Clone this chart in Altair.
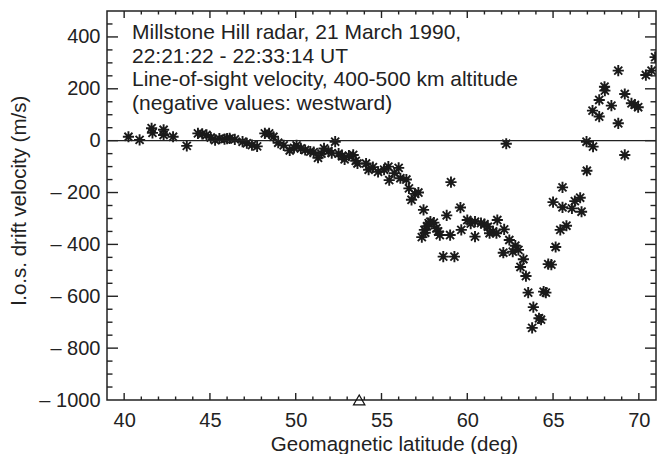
import altair as alt
import pandas as pd

# ---- data ----
lat = [40.25, 40.9, 41.6, 41.65, 42.3, 42.3, 42.85, 43.65, 44.3, 44.55, 44.8, 45.05,
       45.3, 45.55, 45.85, 46.0, 46.15, 46.45, 46.9, 47.15, 47.45, 47.75, 48.2, 48.45,
       48.7, 48.98, 49.3, 49.65, 49.9, 50.05, 50.3, 50.55, 50.85, 51.05, 51.3, 51.5,
       51.65, 51.9, 52.1, 52.3, 52.5, 52.7, 52.85, 53.1, 53.35, 53.5, 53.6, 54.1,
       54.25, 54.5, 54.8, 55.15, 55.4, 55.45, 55.75, 56.0, 56.1, 56.45, 56.6, 56.75,
       56.95, 57.15, 57.45, 57.35, 57.5, 57.55, 57.65, 57.75, 57.85, 58.05, 58.2, 58.3,
       58.4, 58.6, 58.8, 59.0, 59.05, 59.25, 59.6, 59.65, 60.0, 60.2, 60.45, 60.45,
       60.8, 61.0, 61.2, 61.3, 61.5, 61.75, 61.7, 62.1, 62.15, 62.27, 62.45, 62.65,
       62.8, 62.98, 63.1, 63.27, 63.42, 63.55, 63.78, 63.85, 64.18, 64.3, 64.45, 64.58,
       64.72, 64.9, 65.0, 65.15, 65.42, 65.55, 65.55, 65.78, 66.1, 66.27, 66.58, 66.66,
       66.95, 66.97, 67.3, 67.33, 67.69, 67.69, 68.0, 68.02, 68.4, 68.8, 68.8, 69.18,
       69.18, 69.57, 69.77, 69.96, 70.41, 70.74, 70.95]
vel = [15, 3, 48, 30, 42, 22, 15, -20, 28, 26, 22, 12,
       2, 8, 6, 8, 9, 5, -4, -10, -17, -22, 28, 28,
       15, -8, -18, -38, -28, -18, -30, -36, -42, -44, -66, -50,
       -30, -40, -48, -4, -50, -60, -72, -58, -55, -78, -88, -88,
       -112, -102, -120, -112, -100, -152, -125, -105, -145, -150, -184, -228,
       -205, -200, -267, -372, -344, -355, -330, -318, -312, -316, -338, -350,
       -364, -447, -288, -364, -160, -447, -258, -344, -306, -320, -312, -370,
       -318, -322, -332, -357, -350, -306, -357, -432, -342, -12, -383, -428,
       -405, -421, -487, -457, -522, -586, -722, -642, -685, -690, -582, -586,
       -476, -478, -237, -410, -344, -180, -257, -328, -261, -233, -220, -274,
       -4, -116, 116, -23, 93, 157, 208, 193, 135, 270, 67, 180,
       -55, 144, 138, 129, 253, 270, 322]

marker_lat = [53.7]
marker_vel = [-1000]
zero_level = [0]

info_lines = ["Millstone Hill radar, 21 March 1990,",
              "22:21:22 - 22:33:14 UT",
              "Line-of-sight velocity, 400-500 km altitude",
              "(negative values: westward)"]

x_domain = [39, 71]
y_domain = [-1000, 500]
x_major = [40, 45, 50, 55, 60, 65, 70]
x_minor = [v for v in range(40, 71) if v % 5 != 0]
y_major = [-800, -600, -400, -200, 0, 200, 400]
y_minor = [v for v in range(-950, 500, 50) if v % 200 != 0]

x_title = "Geomagnetic latitude (deg)"
y_title = "l.o.s. drift velocity (m/s)"

# ---- styling ----
FONT = "Liberation Sans"
FS = 20
INK = "#222222"
W, H = 549, 389

pts = pd.DataFrame({"lat": lat, "vel": vel})
mk = pd.DataFrame({"lat": marker_lat, "vel": marker_vel})
zero = pd.DataFrame({"vel": zero_level})
info = pd.DataFrame({"t": [info_lines]})

xs = alt.Scale(domain=x_domain, nice=False, zero=False)
ys = alt.Scale(domain=y_domain, nice=False, zero=False)

x_axis = alt.Axis(orient="bottom", values=x_major, ticks=False, domain=False, grid=False,
                  labelFont=FONT, labelFontSize=FS, labelColor=INK, labelPadding=10,
                  labelFlush=False, title=x_title, titleFont=FONT, titleFontSize=20.5,
                  titleColor=INK, titleFontWeight="normal", titleX=287, titleY=50,
                  titleBaseline="alphabetic")
y_axis = alt.Axis(orient="left", values=[-1000] + y_major, ticks=False, domain=False, grid=False,
                  labelExpr="datum.value < 0 ? '\u2013 ' + (-datum.value) : '' + datum.value",
                  labelFont=FONT, labelFontSize=FS, labelColor=INK, labelPadding=7,
                  labelFlush=False, title=y_title, titleFont=FONT, titleFontSize=20.5,
                  titleColor=INK, titleFontWeight="normal", titleX=-82, titleY=189,
                  titleBaseline="alphabetic", titleAngle=270)

# tick marks drawn as short one-sided symbols anchored on the frame edges
UP, DOWN, RIGHT, LEFT = "M0,0L0,-1", "M0,0L0,1", "M0,0L1,0", "M0,0L-1,0"


def edge_ticks(xv, yv, shape, length):
    d = pd.DataFrame({"lat": xv, "vel": yv})
    return alt.Chart(d).mark_point(shape=shape, size=(2 * length) ** 2, filled=False,
                                   stroke=INK, strokeWidth=1.4, opacity=1,
                                   strokeCap="butt").encode(
        x=alt.X("lat:Q", scale=xs, axis=None),
        y=alt.Y("vel:Q", scale=ys, axis=None),
    )


def x_edge_ticks(values, length):
    return [edge_ticks(values, [y_domain[0]] * len(values), UP, length),
            edge_ticks(values, [y_domain[1]] * len(values), DOWN, length)]


def y_edge_ticks(values, length):
    return [edge_ticks([x_domain[0]] * len(values), values, RIGHT, length),
            edge_ticks([x_domain[1]] * len(values), values, LEFT, length)]


asterisk = "M-1,0L1,0M0,-1L0,1M-0.72,-0.72L0.72,0.72M-0.72,0.72L0.72,-0.72"

zero_layer = alt.Chart(zero).mark_rule(color=INK, strokeWidth=1.4).encode(
    y=alt.Y("vel:Q", scale=ys, axis=None), x=alt.value(0), x2=alt.value(W)
)

points = alt.Chart(pts).mark_point(shape=asterisk, filled=False, stroke="#1a1a1a",
                                   strokeWidth=1.9, size=125, opacity=1, clip=True).encode(
    x=alt.X("lat:Q", scale=xs, axis=x_axis),
    y=alt.Y("vel:Q", scale=ys, axis=y_axis),
)

marker = alt.Chart(mk).mark_point(shape="triangle-up", filled=False, stroke="#111111",
                                  strokeWidth=1.2, size=130, opacity=1).encode(
    x=alt.X("lat:Q", scale=xs, axis=None),
    y=alt.Y("vel:Q", scale=ys, axis=None),
)

text = alt.Chart(info).mark_text(align="left", baseline="alphabetic", font=FONT,
                                 fontSize=21, color=INK, lineHeight=23.5).encode(
    x=alt.value(25), y=alt.value(28), text="t"
)

layers = ([points, zero_layer, marker]
          + x_edge_ticks(x_major, 7) + x_edge_ticks(x_minor, 3.5)
          + y_edge_ticks(y_major, 11) + y_edge_ticks(y_minor, 5.5)
          + [text])

chart = alt.layer(*layers).resolve_axis(
    x="independent", y="independent"
).properties(
    width=W, height=H,
    autosize=alt.AutoSizeParams(type="none"),
    padding={"left": 107, "top": 11, "right": 1, "bottom": 54},
    background="white",
).configure_view(stroke=INK, strokeWidth=1.5)

chart.save("out.html", embed_options={"renderer": "svg", "actions": False})
